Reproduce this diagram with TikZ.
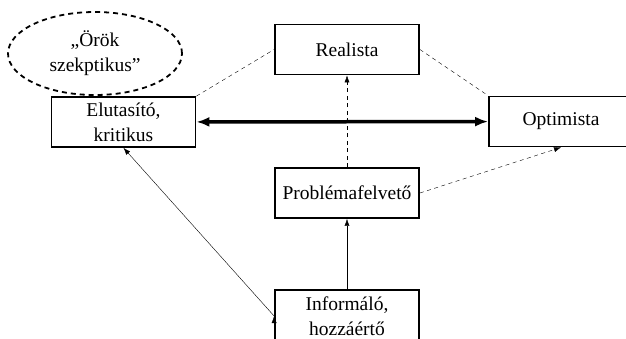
\documentclass[tikz,border=0pt]{standalone}
\usepackage{fontspec}
\setmainfont{Liberation Serif}
\usetikzlibrary{arrows.meta,shapes,positioning}

\begin{document}
\begin{tikzpicture}[
        x=1pt, y=-1pt,
        every node/.style={font=\fontsize{19.5}{25}\selectfont, align=center, inner sep=0pt},
        role/.style={draw, line width=1.8pt, minimum width=144pt, minimum height=50pt},
        weak/.style={thin, dash pattern=on 4pt off 3.5pt},
        tip/.style={-{Latex[length=7pt,width=5pt]}}
    ]
        \useasboundingbox (0,0) rectangle (626,338);
        \clip (0,0) rectangle (626,338);
        \fill[white] (0,0) rectangle (626,338);

        \node[role] (Real) at (347,49.5) {Realista};
        \node[role] (Elut) at (123.5,122) {Elutasító,\\kritikus};
        \node[role] (Opt) at (561,121.5) {Optimista};
        \node[role] (Prob) at (347,193) {Problémafelvető};
        \node[role, minimum height=52pt] (Inf) at (347,316) {Informáló,\\hozzáértő};
        \node[ellipse, draw, line width=1.8pt, dash pattern=on 5pt off 4pt,
              minimum width=174pt, minimum height=83pt] (Szkep) at (95,53.5)
              {„Örök\\szekptikus”};

        \path[draw, line width=3.5pt, {Latex[length=13pt,width=10pt]}-{Latex[length=13pt,width=10pt]}]
            (Elut) -- (Opt);
        \path[draw, weak]
            (Elut.north east) edge (Real.west)
            (Real.east) edge (Opt.north west)
            (Prob) edge[tip] (Real)
            (Prob.east) edge[tip] (Opt.south);
        \path[draw, thin, tip]
            (Inf) edge (Prob)
            (Inf.west) edge (Elut.south);
    \end{tikzpicture}
\end{document}
